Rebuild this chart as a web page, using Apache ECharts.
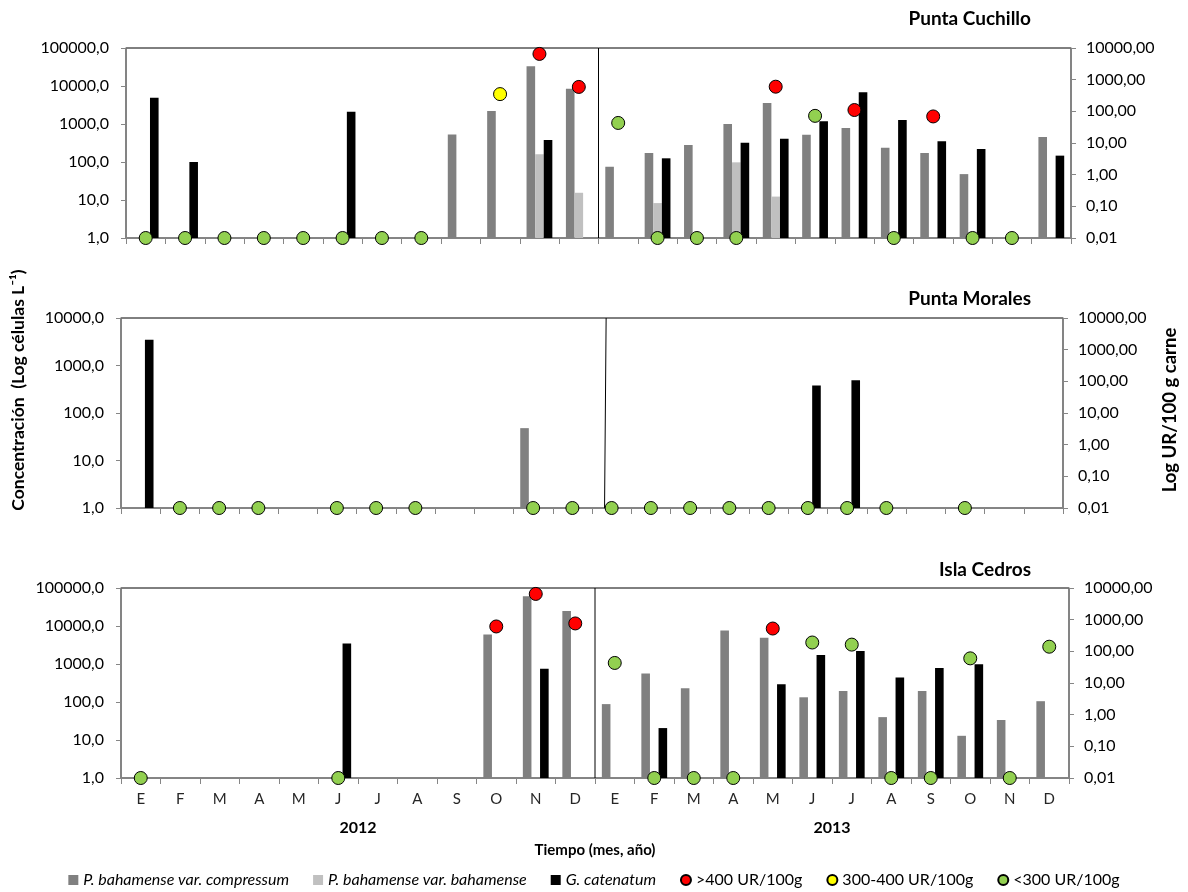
<!DOCTYPE html>
<html>
<head>
<meta charset="utf-8">
<title>Concentración de dinoflagelados y toxicidad</title>
<script src="https://cdn.jsdelivr.net/npm/echarts@6/dist/echarts.min.js"></script>
<style>
  html, body { margin: 0; padding: 0; background: #ffffff; }
  #chart { width: 1188px; height: 892px; }
</style>
</head>
<body>
<div id="chart"></div>
<script>
// Month categories (Spanish initials), two sampling years
const months = ['E','F','M','A','M','J','J','A','S','O','N','D',
                'E','F','M','A','M','J','J','A','S','O','N','D'];
const years = ['2012', '2013'];
const stations = ['Punta Cuchillo', 'Punta Morales', 'Isla Cedros'];

const nameCompressum = 'P. bahamense var. compressum';
const nameBahamense = 'P. bahamense var. bahamense';
const nameCatenatum = 'G. catenatum';
const nameHigh = '>400 UR/100g';
const nameMid = '300-400 UR/100g';
const nameLow = '<300 UR/100g';

const _ = null;

// Punta Cuchillo: cell concentrations (células L-1)
const pcCompressum = [_,_,_,_,_,_,_,_,530,2200,33000,8500, 75,173,280,1000,3550,525,780,238,173,48,_,455];
const pcBahamense  = [_,_,_,_,_,_,_,_,_,_,160,15.5, _,8.3,_,98,12.3,_,_,_,_,_,_,_];
const pcCatenatum  = [4900,100,_,_,_,2100,_,_,_,_,380,_, _,125,_,323,410,1175,6800,1270,350,220,_,147];
// Punta Cuchillo: toxicity (UR/100 g carne)
const pcHigh = [_,_,_,_,_,_,_,_,_,_,6500,590, _,_,_,_,600,_,110,_,69,_,_,_];
const pcMid  = [_,_,_,_,_,_,_,_,_,350,_,_, _,_,_,_,_,_,_,_,_,_,_,_];
const pcLow  = [0.01,0.01,0.01,0.01,0.01,0.01,0.01,0.01,_,_,_,_, 43,0.01,0.01,0.01,_,72,_,0.01,_,0.01,0.01,_];

// Punta Morales
const pmCompressum = [_,_,_,_,_,_,_,_,_,_,48,_, _,_,_,_,_,_,_,_,_,_,_,_];
const pmBahamense  = [_,_,_,_,_,_,_,_,_,_,_,_, _,_,_,_,_,_,_,_,_,_,_,_];
const pmCatenatum  = [3500,_,_,_,_,_,_,_,_,_,_,_, _,_,_,_,_,380,490,_,_,_,_,_];
const pmHigh = [_,_,_,_,_,_,_,_,_,_,_,_, _,_,_,_,_,_,_,_,_,_,_,_];
const pmMid  = [_,_,_,_,_,_,_,_,_,_,_,_, _,_,_,_,_,_,_,_,_,_,_,_];
const pmLow  = [_,0.01,0.01,0.01,_,0.01,0.01,0.01,_,_,0.01,0.01, 0.01,0.01,0.01,0.01,0.01,0.01,0.01,0.01,_,0.01,_,_];

// Isla Cedros
const icCompressum = [_,_,_,_,_,_,_,_,_,6000,61000,25000, 88,565,230,7600,4900,133,196,40,196,12.9,33.6,105];
const icBahamense  = [_,_,_,_,_,_,_,_,_,_,_,_, _,_,_,_,_,_,_,_,_,_,_,_];
const icCatenatum  = [_,_,_,_,_,3450,_,_,_,_,755,_, _,20.6,_,_,295,1730,2200,440,780,980,_,_];
const icHigh = [_,_,_,_,_,_,_,_,_,610,6500,760, _,_,_,_,525,_,_,_,_,_,_,_];
const icMid  = [_,_,_,_,_,_,_,_,_,_,_,_, _,_,_,_,_,_,_,_,_,_,_,_];
const icLow  = [0.01,_,_,_,_,0.01,_,_,_,_,_,_, 43,0.01,0.01,0.01,_,190,163,0.01,0.01,60,0.01,140];

// Separator between the two years, in category units, top and bottom end
const yearBreaks = [[12, 12], [12.36, 12.32], [12, 12]];

const panelData = [
  { comp: pcCompressum, bah: pcBahamense, cat: pcCatenatum, high: pcHigh, mid: pcMid, low: pcLow, cellMax: 100000 },
  { comp: pmCompressum, bah: pmBahamense, cat: pmCatenatum, high: pmHigh, mid: pmMid, low: pmLow, cellMax: 10000 },
  { comp: icCompressum, bah: icBahamense, cat: icCatenatum, high: icHigh, mid: icMid, low: icLow, cellMax: 100000 }
];

// Plot boxes
const layout = [
  { top: 48,  left: 126, right: 117, height: 190, titleTop: 4 },
  { top: 318, left: 121, right: 125, height: 190, titleTop: 284 },
  { top: 588, left: 121, right: 119, height: 190, titleTop: 555 }
];

const FONT = 'Lato';
const AXIS_GRAY = '#868686';
const colors = { comp: '#808080', bah: '#c0c0c0', cat: '#000000', high: '#ff0000', mid: '#ffff00', low: '#92d050' };

const fmtCells = v => Number(v).toFixed(1).replace('.', ',');
const fmtTox = v => Number(v).toFixed(2).replace('.', ',');

const grids = [], xAxes = [], yAxes = [], series = [], titles = [];

layout.forEach((box, i) => {
  const d = panelData[i];
  grids.push({ top: box.top, left: box.left, right: box.right, height: box.height,
               show: true, borderColor: '#000', borderWidth: 1, backgroundColor: 'transparent' });
  titles.push({ text: stations[i], right: 152, top: box.titleTop,
                textStyle: { fontFamily: FONT, fontWeight: 'bold', fontSize: 19, color: '#000' } });

  const isLast = i === layout.length - 1;
  // month axis
  const monthAxis = xAxes.length;
  xAxes.push({
    type: 'category', gridIndex: i, data: months, position: 'bottom',
    axisLine: { lineStyle: { color: AXIS_GRAY, width: 1.5 } },
    axisTick: { show: true, interval: 0, length: 6, lineStyle: { color: AXIS_GRAY } },
    axisLabel: { show: isLast, interval: 0, margin: 14, fontFamily: FONT, fontSize: 15, color: '#262626' },
    splitLine: { show: false }
  });
  // hidden numeric axis spanning the same width, used for the year separator
  const breakAxis = xAxes.length;
  xAxes.push({ type: 'value', gridIndex: i, min: 0, max: 24, show: false });
  if (isLast) {
    xAxes.push({
      type: 'category', gridIndex: i, data: years, position: 'bottom', offset: 36,
      axisLine: { show: false }, axisTick: { show: false },
      axisLabel: { fontFamily: FONT, fontWeight: 'bold', fontSize: 16, color: '#000', margin: 6 },
      name: 'Tiempo (mes, año)', nameLocation: 'middle', nameGap: 29,
      nameTextStyle: { fontFamily: FONT, fontWeight: 'bold', fontSize: 15, color: '#000' }
    });
  }

  const cellAxis = yAxes.length;
  yAxes.push({
    type: 'log', logBase: 10, gridIndex: i, min: 1, max: d.cellMax, splitNumber: 5, position: 'left',
    axisLine: { show: true, lineStyle: { color: AXIS_GRAY, width: 1.5 } },
    axisTick: { show: true, length: 5, lineStyle: { color: AXIS_GRAY } },
    axisLabel: { formatter: fmtCells, fontFamily: FONT, fontSize: 16, color: '#000', margin: 17 },
    splitLine: { show: false }
  });
  const toxAxis = yAxes.length;
  yAxes.push({
    type: 'log', logBase: 10, gridIndex: i, min: 0.01, max: 10000, splitNumber: 6, position: 'right',
    axisLine: { show: true, lineStyle: { color: AXIS_GRAY, width: 1.5 } },
    axisTick: { show: true, length: 5, lineStyle: { color: AXIS_GRAY } },
    axisLabel: { formatter: fmtTox, fontFamily: FONT, fontSize: 16, color: '#000', margin: 15 },
    splitLine: { show: false }
  });

  const bar = (name, data, color) => ({
    name, type: 'bar', data, xAxisIndex: monthAxis, yAxisIndex: cellAxis,
    barWidth: 8.6, barGap: '0%', itemStyle: { color }, z: 2, animation: false
  });
  series.push(bar(nameCompressum, d.comp, colors.comp));
  series.push(bar(nameBahamense, d.bah, colors.bah));
  series.push(bar(nameCatenatum, d.cat, colors.cat));

  const dots = (name, data, color) => ({
    name, type: 'scatter', data, xAxisIndex: monthAxis, yAxisIndex: toxAxis,
    symbol: 'circle', symbolSize: 13, clip: false, z: 5, animation: false,
    itemStyle: { color, borderColor: '#000', borderWidth: 1, opacity: 1 }
  });
  series.push(dots(nameHigh, d.high, colors.high));
  series.push(dots(nameMid, d.mid, colors.mid));
  series.push(dots(nameLow, d.low, colors.low));

  const br = yearBreaks[i];
  series.push({
    type: 'line', xAxisIndex: breakAxis, yAxisIndex: cellAxis,
    data: [[br[0], d.cellMax], [br[1], 1]],
    symbol: 'none', lineStyle: { color: '#000', width: 1 }, z: 3, animation: false, silent: true
  });
});

const italicNames = [nameCompressum, nameBahamense, nameCatenatum];

const option = {
  backgroundColor: '#ffffff',
  animation: false,
  title: titles,
  grid: grids,
  xAxis: xAxes,
  yAxis: yAxes,
  series,
  legend: {
    data: [
      { name: nameCompressum, icon: 'rect' },
      { name: nameBahamense, icon: 'rect' },
      { name: nameCatenatum, icon: 'rect' },
      { name: nameHigh, icon: 'circle' },
      { name: nameMid, icon: 'circle' },
      { name: nameLow, icon: 'circle' }
    ],
    left: 'center', top: 867, itemWidth: 10, itemHeight: 10, itemGap: 24,
    formatter: n => italicNames.includes(n) ? '{i|' + n + '}' : n,
    textStyle: { fontFamily: FONT, fontSize: 16, color: '#000', rich: { i: { fontStyle: 'italic', fontFamily: FONT, fontSize: 16 } } }
  },
  graphic: [
    { type: 'text', x: 18, y: 390, rotation: Math.PI / 2,
      style: { text: 'Concentración  (Log células L⁻¹)', font: 'bold 17.5px ' + FONT, fill: '#000',
               textAlign: 'center', textVerticalAlign: 'middle' } },
    { type: 'text', x: 1170, y: 410, rotation: Math.PI / 2,
      style: { text: 'Log UR/100 g carne', font: 'bold 18.5px ' + FONT, fill: '#000',
               textAlign: 'center', textVerticalAlign: 'middle' } }
  ]
};

const chart = echarts.init(document.getElementById('chart'), null, { renderer: 'canvas' });
chart.setOption(option);
</script>
</body>
</html>
